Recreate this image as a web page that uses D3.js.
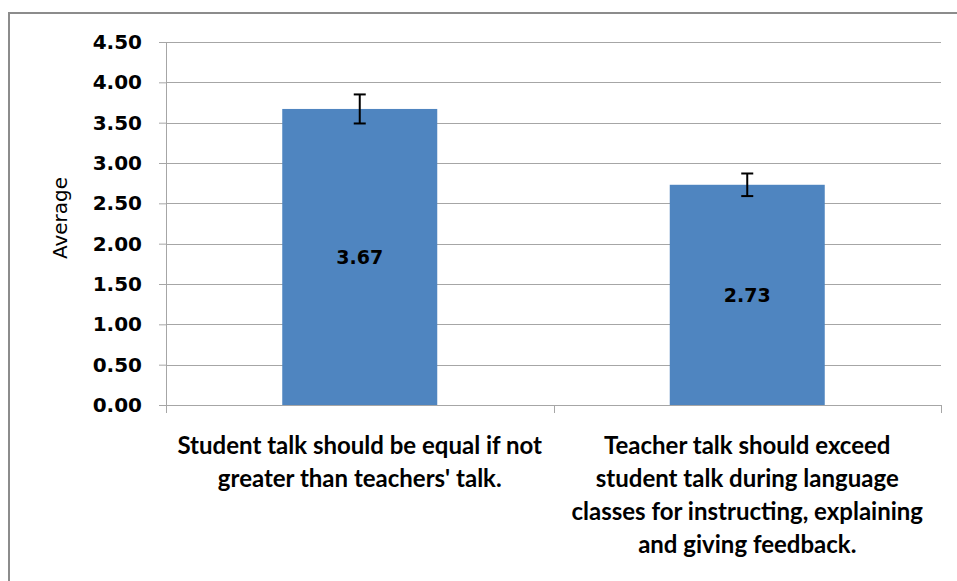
<!DOCTYPE html>
<html>
<head>
<meta charset="utf-8">
<script src="https://cdn.jsdelivr.net/npm/d3@7"></script>
<style>
  body { margin: 0; background: #fff; }
</style>
</head>
<body>
<div id="chart"></div>
<script>
var categories = [
  ["Student talk should be equal if not", "greater than teachers' talk."],
  ["Teacher talk should exceed", "student talk during language", "classes for instructing, explaining", "and giving feedback."]
];
var averages = [3.67, 2.73];
var errors = [0.18, 0.14];
var yTicks = [0, 0.5, 1, 1.5, 2, 2.5, 3, 3.5, 4, 4.5];

var width = 957;
var height = 581;
var margin = {left: 166, top: 42, right: 16, bottom: 176};
var plotW = width - margin.left - margin.right;
var plotH = height - margin.top - margin.bottom;

var svg = d3.select('#chart')
  .append('svg')
  .attr('width', width)
  .attr('height', height);

// outer frame (only top and left are visible)
svg.append('path')
  .attr('d', 'M9,' + height + 'V13H' + width)
  .attr('fill', 'none')
  .attr('stroke', '#8c8c8c')
  .attr('stroke-width', 2);

var g = svg.append('g')
  .attr('transform', 'translate(' + margin.left + ',' + margin.top + ')');

var xScale = d3.scaleBand().domain(d3.range(categories.length)).range([0, plotW]).paddingInner(0.6).paddingOuter(0.3);
var yScale = d3.scaleLinear().domain([0, 4.5]).range([plotH, 0]);

// gridlines
g.append('g')
  .selectAll('line')
  .data(yTicks.slice(1))
  .enter()
  .append('line')
  .attr('x1', 0)
  .attr('x2', plotW)
  .attr('y1', function(d){ return Math.round(yScale(d)) + 0.5; })
  .attr('y2', function(d){ return Math.round(yScale(d)) + 0.5; })
  .attr('stroke', '#a6a6a6')
  .attr('stroke-width', 1);

// y axis
var yAxis = d3.axisLeft(yScale)
  .tickValues(yTicks)
  .tickSize(7)
  .tickPadding(17)
  .tickFormat(d3.format('.2f'));
var yG = g.append('g').call(yAxis);
yG.select('.domain').remove();
yG.selectAll('.tick line').attr('stroke', '#a6a6a6');
yG.selectAll('.tick text')
  .style('font-family', 'DejaVu Sans, sans-serif')
  .style('font-size', '20px')
  .style('font-weight', 'bold')
  .attr('fill', '#000');
g.append('line')
  .attr('x1', 0.5).attr('x2', 0.5)
  .attr('y1', 0).attr('y2', plotH + 8)
  .attr('stroke', '#a6a6a6');

// x axis line and ticks at band edges
var step = plotW / categories.length;
g.append('line')
  .attr('x1', 0).attr('x2', plotW)
  .attr('y1', plotH + 0.5).attr('y2', plotH + 0.5)
  .attr('stroke', '#a6a6a6');
g.append('g')
  .selectAll('line')
  .data(d3.range(categories.length + 1))
  .enter()
  .append('line')
  .attr('x1', function(i){ return Math.round(i * step) + 0.5; })
  .attr('x2', function(i){ return Math.round(i * step) + 0.5; })
  .attr('y1', plotH).attr('y2', plotH + 8)
  .attr('stroke', '#a6a6a6');

// bars
g.selectAll('rect.bar')
  .data(averages)
  .enter()
  .append('rect')
  .attr('class', 'bar')
  .attr('x', function(d, i){ return xScale(i); })
  .attr('width', xScale.bandwidth())
  .attr('y', function(d){ return yScale(d); })
  .attr('height', function(d){ return plotH - yScale(d); })
  .attr('fill', '#4f85c0');

// error bars
var eb = g.selectAll('g.err')
  .data(averages)
  .enter()
  .append('g')
  .attr('class', 'err')
  .attr('stroke', '#000')
  .attr('stroke-width', 2);
eb.append('line')
  .attr('x1', function(d, i){ return xScale(i) + xScale.bandwidth() / 2; })
  .attr('x2', function(d, i){ return xScale(i) + xScale.bandwidth() / 2; })
  .attr('y1', function(d, i){ return yScale(d + errors[i]); })
  .attr('y2', function(d, i){ return yScale(d - errors[i]); });
eb.append('line')
  .attr('x1', function(d, i){ return xScale(i) + xScale.bandwidth() / 2 - 6; })
  .attr('x2', function(d, i){ return xScale(i) + xScale.bandwidth() / 2 + 6; })
  .attr('y1', function(d, i){ return yScale(d + errors[i]); })
  .attr('y2', function(d, i){ return yScale(d + errors[i]); });
eb.append('line')
  .attr('x1', function(d, i){ return xScale(i) + xScale.bandwidth() / 2 - 6; })
  .attr('x2', function(d, i){ return xScale(i) + xScale.bandwidth() / 2 + 6; })
  .attr('y1', function(d, i){ return yScale(d - errors[i]); })
  .attr('y2', function(d, i){ return yScale(d - errors[i]); });

// value labels in the middle of each bar
g.selectAll('text.val')
  .data(averages)
  .enter()
  .append('text')
  .attr('class', 'val')
  .text(function(d){ return d3.format('.2f')(d); })
  .attr('x', function(d, i){ return xScale(i) + xScale.bandwidth() / 2; })
  .attr('y', function(d){ return (yScale(d) + plotH) / 2; })
  .attr('dy', '0.35em')
  .attr('text-anchor', 'middle')
  .style('font-family', 'DejaVu Sans, sans-serif')
  .style('font-size', '19px')
  .style('font-weight', 'bold');

// category labels
var catG = g.selectAll('text.cat')
  .data(categories)
  .enter()
  .append('text')
  .attr('class', 'cat')
  .attr('text-anchor', 'middle')
  .attr('x', function(d, i){ return xScale(i) + xScale.bandwidth() / 2; })
  .attr('y', plotH + 49)
  .style('font-family', 'Lato, sans-serif')
  .style('font-size', '24px')
  .style('font-weight', 'bold');
catG.selectAll('tspan')
  .data(function(d){ return d; })
  .enter()
  .append('tspan')
  .attr('x', function(){ return this.parentNode.getAttribute('x'); })
  .attr('dy', function(d, j){ return j === 0 ? 0 : 33; })
  .text(function(d){ return d; });

// y axis title
svg.append('text')
  .text('Average')
  .attr('text-anchor', 'middle')
  .attr('transform', 'translate(67,218)rotate(-90)')
  .style('font-family', 'DejaVu Sans, sans-serif')
  .style('font-size', '20px');
</script>
</body>
</html>
